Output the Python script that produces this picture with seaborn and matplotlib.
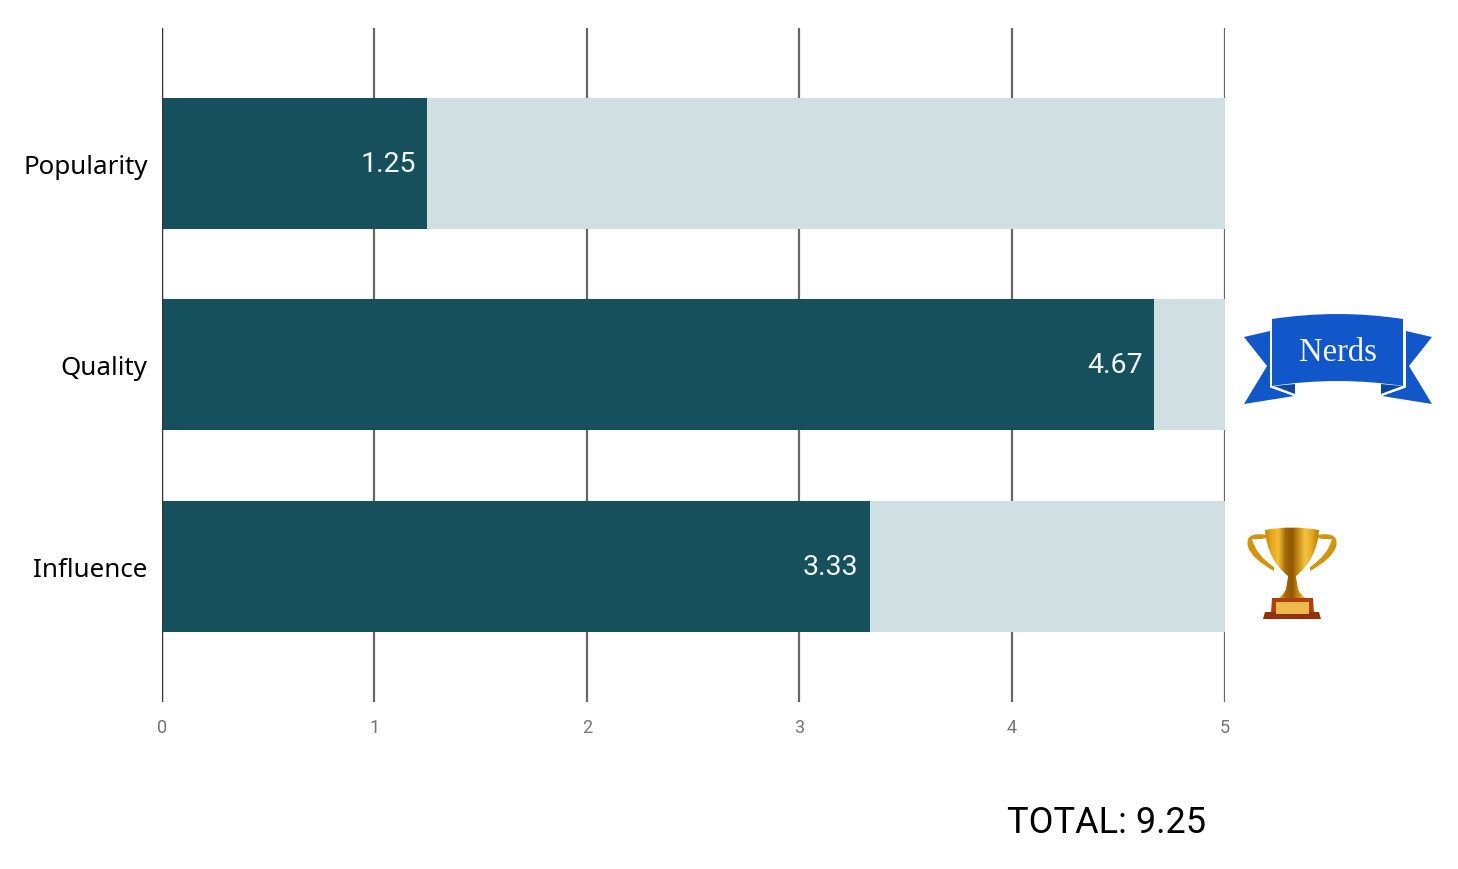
import matplotlib
matplotlib.use('Agg')
import matplotlib.pyplot as plt
from matplotlib.colors import LinearSegmentedColormap
from matplotlib.patches import Polygon, PathPatch
from matplotlib.path import Path
import numpy as np
import pandas as pd
import seaborn as sns

categories = ['Popularity', 'Quality', 'Influence']
scores = [1.25, 4.67, 3.33]
max_scores = [5, 5, 5]
x_ticks = [0, 1, 2, 3, 4, 5]
total_label = 'TOTAL: 9.25'
badge_label = 'Nerds'

DARK = '#16505C'
LIGHT = '#D0DFE2'
BLUE = '#1257C9'

W, H = 1458, 870

sns.set_style('white')
plt.rcParams['font.family'] = ['Roboto', 'DejaVu Sans']

df = pd.DataFrame({'category': categories, 'score': scores, 'max_score': max_scores})

fig = plt.figure(figsize=(W / 100, H / 100), dpi=100)
ax = fig.add_axes([161.7 / W, 1 - 702.5 / H, (1224.6 - 161.7) / W, (702.5 - 28.5) / H])

# background bars first, then the scores on top
sns.barplot(data=df, y='category', x='max_score', color=LIGHT, saturation=1,
            width=0.6485, ax=ax, zorder=3, linewidth=0)
sns.barplot(data=df, y='category', x='score', color=DARK, saturation=1,
            width=0.6485, ax=ax, zorder=4, linewidth=0)

ax.set_xlim(0, 5)
ax.set_ylim(2.668, -0.672)
ax.set_xlabel('')
ax.set_ylabel('')
ax.set_xticks(x_ticks)
ax.set_axisbelow(True)
ax.xaxis.grid(True, color='#666666', lw=1.6)
ax.yaxis.grid(False)
for spine in ax.spines.values():
    spine.set_visible(False)
ax.axvline(0, color='#333333', lw=1.7, zorder=5)
ax.tick_params(axis='x', length=0, pad=12, labelsize=13, labelcolor='#757575')
ax.tick_params(axis='y', length=0, pad=10)
for label in ax.get_yticklabels():
    label.set_fontfamily(['Noto Sans', 'DejaVu Sans'])
    label.set_fontsize(18.7)
    label.set_fontweight('medium')
    label.set_color('#000000')

labels = ax.bar_label(ax.containers[1], labels=[f'{v:.2f}' for v in scores],
                      padding=-8, color='#F2F6F7', fontsize=20.5, zorder=6)
for t in labels:
    t.set_ha('right')
    t.set_va('center')

# overlay in pixel coordinates for the badge, the trophy and the total
deco = fig.add_axes([0, 0, 1, 1], facecolor='none')
deco.set_xlim(0, W)
deco.set_ylim(H, 0)
deco.axis('off')

deco.text(1107, 823, total_label, ha='center', va='center', fontsize=26, color='#000000')

# ribbon tails
deco.add_patch(Polygon([(1244, 338), (1270, 332), (1270, 388), (1294, 397), (1244, 405), (1267, 367)],
                       fc=BLUE, ec='none'))
deco.add_patch(Polygon([(1432, 338), (1406, 332), (1406, 388), (1382, 397), (1432, 405), (1409, 367)],
                       fc=BLUE, ec='none'))
deco.plot([1271, 1271, 1294], [331, 388, 396], color='white', lw=1.2, zorder=3)
deco.plot([1405, 1405, 1382], [331, 388, 396], color='white', lw=1.2, zorder=3)
deco.add_patch(Polygon([(1274, 387), (1295, 385), (1295, 395)], fc='#0D459F', ec='none', zorder=3))
deco.add_patch(Polygon([(1402, 387), (1381, 385), (1381, 395)], fc='#0D459F', ec='none', zorder=3))
# ribbon front
front = Path([(1272, 320), (1338, 310), (1403, 320), (1403, 387), (1338, 377), (1272, 387), (1272, 320)],
             [Path.MOVETO, Path.CURVE3, Path.CURVE3, Path.LINETO, Path.CURVE3, Path.CURVE3, Path.CLOSEPOLY])
deco.add_patch(PathPatch(front, fc=BLUE, ec='none', zorder=4))
deco.text(1338, 353, badge_label, ha='center', va='center', fontsize=23.5, zorder=5,
          color='#F4F7FD', family=['Liberation Serif', 'DejaVu Serif'])

# gold gradient shared by the cup and handles
gold = LinearSegmentedColormap.from_list('gold', ['#C8860C', '#E8A81E', '#F2BC38', '#A86A08', '#8F5606',
                                                  '#C98E12', '#F3C445', '#E4A820', '#B97A0C'])
gradient = np.linspace(0, 1, 128).reshape(1, -1)

handles = Path([(1267, 536), (1244, 532), (1248, 548), (1252, 560), (1274, 572),
                (1274, 568), (1256, 556), (1252, 540), (1267, 541), (1267, 536),
                (1317, 536), (1340, 532), (1336, 548), (1332, 560), (1310, 572),
                (1310, 568), (1328, 556), (1332, 540), (1317, 541), (1317, 536)],
               [Path.MOVETO, Path.CURVE3, Path.CURVE3, Path.CURVE3, Path.CURVE3,
                Path.LINETO, Path.CURVE3, Path.CURVE3, Path.CURVE3, Path.CLOSEPOLY,
                Path.MOVETO, Path.CURVE3, Path.CURVE3, Path.CURVE3, Path.CURVE3,
                Path.LINETO, Path.CURVE3, Path.CURVE3, Path.CURVE3, Path.CLOSEPOLY])
deco.add_patch(PathPatch(handles, fc='#D0940F', ec='none', zorder=2))

cup = Path([(1265, 531), (1292, 526), (1319, 531), (1317, 560), (1296, 577), (1296, 578),
            (1298, 590), (1300, 594), (1306, 600), (1278, 600), (1284, 594), (1286, 590),
            (1288, 578), (1288, 577), (1267, 560), (1265, 531)],
           [Path.MOVETO, Path.CURVE3, Path.CURVE3, Path.CURVE3, Path.CURVE3, Path.LINETO,
            Path.LINETO, Path.LINETO, Path.LINETO, Path.LINETO, Path.LINETO, Path.LINETO,
            Path.LINETO, Path.LINETO, Path.CURVE3, Path.CURVE3])
cup_patch = PathPatch(cup, fc='none', ec='none')
deco.add_patch(cup_patch)
img = deco.imshow(gradient, cmap=gold, extent=(1265, 1319, 602, 526), aspect='auto', zorder=3)
img.set_clip_path(cup_patch)
deco.set_xlim(0, W)
deco.set_ylim(H, 0)

# plinth
deco.add_patch(Polygon([(1272, 599), (1313, 599), (1314, 614), (1271, 614)], fc='#B0400F', ec='none', zorder=4))
deco.add_patch(Polygon([(1265, 613), (1319, 613), (1321, 620), (1263, 620)], fc='#94300A', ec='none', zorder=4))
deco.add_patch(Polygon([(1276, 603), (1309, 603), (1309, 615), (1276, 615)], fc='#EDB94C', ec='none', zorder=5))

fig.savefig('out.png', dpi=100)
plt.close(fig)
